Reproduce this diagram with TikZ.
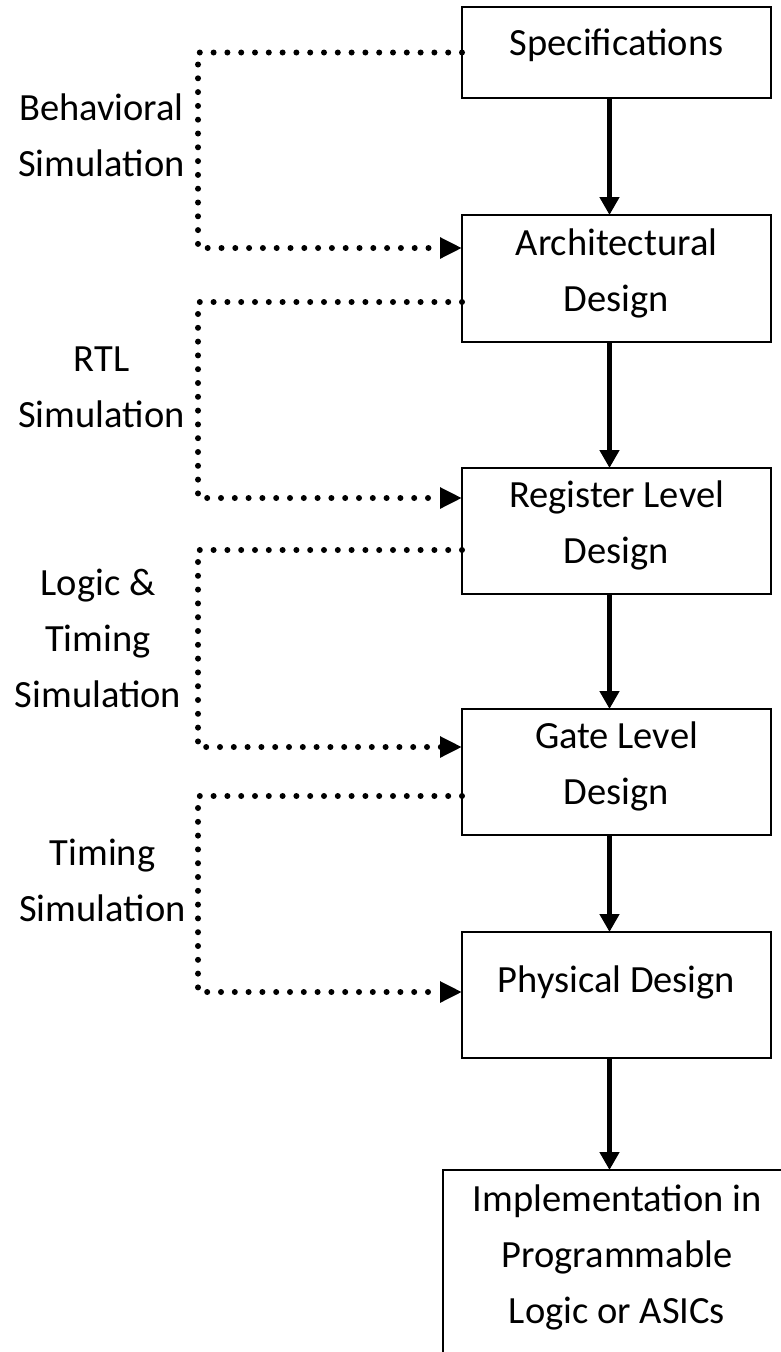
\documentclass[tikz,border=0pt]{standalone}
\usepackage{fontspec}
\setmainfont{Carlito}
\usetikzlibrary{arrows.meta}
\begin{document}
\begin{tikzpicture}[x=1pt,y=-1pt,
  txt/.style={font=\fontsize{38.5}{56}\selectfont, align=center, inner sep=0pt, outer sep=0pt,
              execute at begin node=\strut, execute at end node=\strut},
  box/.style={txt, draw=black, line width=2pt, minimum width=309pt},
  flow/.style={line width=5pt, -{Triangle[length=18pt,width=19pt]}},
  sim/.style={line width=6pt, dash pattern=on 0pt off 13.8pt, line cap=round,
              -{Triangle[length=22pt,width=20pt]}}
]
\useasboundingbox (0,0) rectangle (781,1352);
\clip (0,0) rectangle (781,1352);

% boxes
\node[box, minimum height=91pt, text depth=34.2pt] (spec) at (616.5,52.5) {Specifications};
\node[box, minimum height=127pt] (arch) at (616.5,278.5) {Architectural\\Design};
\node[box, minimum height=126pt] (reg) at (616.5,531) {Register Level\\Design};
\node[box, minimum height=126pt] (gate) at (616.5,772) {Gate Level\\Design};
\node[box, minimum height=126pt, text depth=45.2pt] (phys) at (616.5,995) {Physical Design};
\node[box, minimum width=348pt, minimum height=186pt] (impl) at (617,1263) {Implementation in\\Programmable\\Logic or ASICs};

% labels
\node[txt] (lb1) at (101.5,143.8) {Behavioral\\Simulation};
\node[txt] (lb2) at (101.5,395.8) {RTL\\Simulation};
\node[txt] (lb3) at (98,646.8) {Logic \&\\Timing\\Simulation};
\node[txt] (lb4) at (102.5,888.8) {Timing\\Simulation};

% flow arrows
\draw[flow] ([xshift=-7pt]spec.south) -- ([xshift=-7pt]arch.north);
\draw[flow] ([xshift=-7pt]arch.south) -- ([xshift=-7pt]reg.north);
\draw[flow] ([xshift=-7pt]reg.south) -- ([xshift=-7pt]gate.north);
\draw[flow] ([xshift=-7pt]gate.south) -- ([xshift=-7pt]phys.north);
\draw[flow] ([xshift=-7pt]phys.south) -- ([xshift=-7.5pt]impl.north);

% simulation loops
\coordinate (lx) at (198,0);
\draw[sim] (spec.west) -- (spec.west -| lx) |- ([yshift=30.5pt]arch.west);
\draw[sim] ([yshift=-23.5pt]arch.west) -- ([yshift=-23.5pt]arch.west -| lx) |- ([yshift=33pt]reg.west);
\draw[sim] ([yshift=-19pt]reg.west) -- ([yshift=-19pt]reg.west -| lx) |- ([yshift=25pt]gate.west);
\draw[sim] ([yshift=-24pt]gate.west) -- ([yshift=-24pt]gate.west -| lx) |- ([yshift=3pt]phys.west);
\end{tikzpicture}
\end{document}
